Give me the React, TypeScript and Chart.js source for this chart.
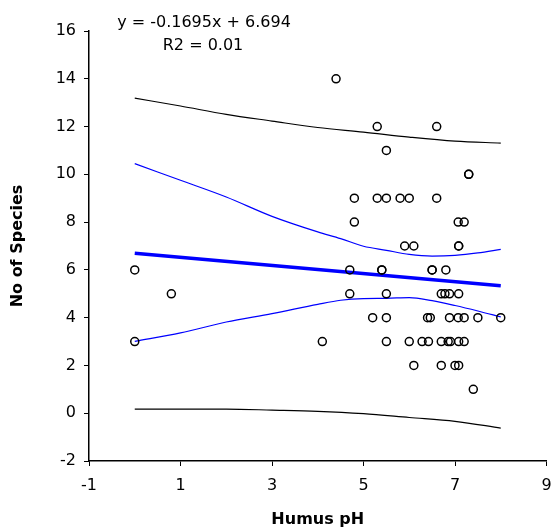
import React, { useEffect, useRef } from "react";
import { Chart, registerables } from "chart.js";

Chart.register(...registerables);

// Observed samples: humus pH vs number of species
const humusPH = [
  0, 0, 0.8, 4.1, 4.4,
  5.3, 6.6, 5.5,
  7.3, 7.3,
  4.8, 5.3, 5.5, 5.8, 6.0, 6.6,
  4.8, 7.07, 7.2,
  5.9, 6.1, 7.08, 7.08,
  4.7, 5.4, 5.4, 6.5, 6.5, 6.8,
  4.7, 5.5, 6.7, 6.78, 6.88, 7.08,
  5.2, 5.5, 6.4, 6.46, 6.88, 7.07, 7.2, 7.5, 8.0,
  5.5, 6.0, 6.28, 6.42, 6.7, 6.85, 6.9, 7.08, 7.2,
  6.1, 6.7, 7.0, 7.08,
  7.4,
];
const speciesCount = [
  6, 3, 5, 3, 14,
  12, 12, 11,
  10, 10,
  9, 9, 9, 9, 9, 9,
  8, 8, 8,
  7, 7, 7, 7,
  6, 6, 6, 6, 6, 6,
  5, 5, 5, 5, 5, 5,
  4, 4, 4, 4, 4, 4, 4, 4, 4,
  3, 3, 3, 3, 3, 3, 3, 3, 3,
  2, 2, 2, 2,
  1,
];

// Regression line y = -0.1695x + 6.694 (end points)
const fitX = [0, 8];
const fitY = [6.694, 5.338];

// 95% prediction band (black)
const predX = [0, 1, 2, 3, 4, 5, 6, 7, 8];
const predUpper = [13.19, 12.86, 12.51, 12.23, 11.96, 11.77, 11.56, 11.39, 11.31];
const predLower = [0.17, 0.17, 0.17, 0.13, 0.08, -0.02, -0.18, -0.34, -0.62];

// 95% confidence band (blue)
const confX = [0, 1, 2, 3, 4, 4.5, 5, 5.5, 6, 6.5, 7, 7.5, 8];
const confUpper = [10.45, 9.75, 9.05, 8.24, 7.59, 7.31, 6.99, 6.82, 6.65, 6.58, 6.61, 6.71, 6.86];
const confLower = [3.01, 3.36, 3.82, 4.17, 4.56, 4.73, 4.8, 4.81, 4.84, 4.71, 4.51, 4.28, 4.03];

const equationText = "y = -0.1695x + 6.694";
const r2Text = "R2 = 0.01";
const xTitle = "Humus pH";
const yTitle = "No of Species";

const FONT = "'DejaVu Sans', 'Liberation Sans', Arial, sans-serif";

const toXY = (xs: number[], ys: number[]) => xs.map((x, i) => ({ x, y: ys[i] }));

const equationPlugin = {
  id: "equationText",
  afterDraw(chart: any) {
    const ctx = chart.ctx;
    ctx.save();
    ctx.font = `16px ${FONT}`;
    ctx.fillStyle = "#000";
    ctx.textAlign = "center";
    ctx.textBaseline = "alphabetic";
    ctx.fillText(equationText, 204, 26.5);
    ctx.fillText(r2Text, 203, 50);
    ctx.restore();
  },
};

export default function App() {
  const canvasRef = useRef<HTMLCanvasElement | null>(null);

  useEffect(() => {
    if (!canvasRef.current) return;
    const lineDs = (data: any[], color: string, width: number) => ({
      data,
      showLine: true,
      borderColor: color,
      borderWidth: width,
      pointRadius: 0,
      fill: false,
      cubicInterpolationMode: "monotone" as const,
    });
    const chart = new Chart(canvasRef.current, {
      type: "scatter",
      data: {
        datasets: [
          {
            data: toXY(humusPH, speciesCount),
            pointStyle: "circle",
            pointRadius: 4,
            pointBorderWidth: 1.5,
            pointBorderColor: "#000",
            pointBackgroundColor: "rgba(0,0,0,0)",
            showLine: false,
          },
          lineDs(toXY(fitX, fitY), "#0000ff", 3.5),
          lineDs(toXY(confX, confUpper), "#0000ff", 1.2),
          lineDs(toXY(confX, confLower), "#0000ff", 1.2),
          lineDs(toXY(predX, predUpper), "#000000", 1.2),
          lineDs(toXY(predX, predLower), "#000000", 1.2),
        ] as any,
      },
      options: {
        responsive: false,
        animation: false,
        events: [],
        layout: { padding: { left: 4, right: 5, top: 31, bottom: 2 } },
        plugins: {
          legend: { display: false },
          tooltip: { enabled: false },
        },
        scales: {
          x: {
            type: "linear",
            min: -1,
            max: 9,
            ticks: {
              stepSize: 2,
              color: "#000",
              padding: 10,
              font: { family: FONT, size: 16 },
            },
            grid: {
              display: true,
              drawOnChartArea: false,
              drawTicks: true,
              tickLength: 5,
              color: "#000",
              lineWidth: 1,
            },
            border: { display: true, color: "#000", width: 1.5 },
            title: {
              display: true,
              text: xTitle,
              color: "#000",
              font: { family: FONT, size: 16, weight: "bold" },
              padding: { top: 4, bottom: 0 },
            },
            afterFit: (scale: any) => {
              scale.height = 531 - 2 - 461;
              scale.paddingLeft = 0;
              scale.paddingRight = 0;
            },
          },
          y: {
            type: "linear",
            min: -2,
            max: 16,
            ticks: {
              stepSize: 2,
              color: "#000",
              padding: 8,
              font: { family: FONT, size: 16 },
            },
            grid: {
              display: true,
              drawOnChartArea: false,
              drawTicks: true,
              tickLength: 5,
              color: "#000",
              lineWidth: 1,
            },
            border: { display: true, color: "#000", width: 1.5 },
            title: {
              display: true,
              text: yTitle,
              color: "#000",
              font: { family: FONT, size: 16, weight: "bold" },
              padding: { top: 4, bottom: 4 },
            },
            afterFit: (scale: any) => {
              scale.width = 89 - 4;
              scale.paddingTop = 0;
              scale.paddingBottom = 0;
            },
          },
        },
      } as any,
      plugins: [equationPlugin],
    });
    return () => chart.destroy();
  }, []);

  return (
    <div style={{ position: "fixed", left: 0, top: 0, width: 552, height: 531, background: "#fff" }}>
      <canvas ref={canvasRef} width={552} height={531} style={{ display: "block" }} />
    </div>
  );
}
